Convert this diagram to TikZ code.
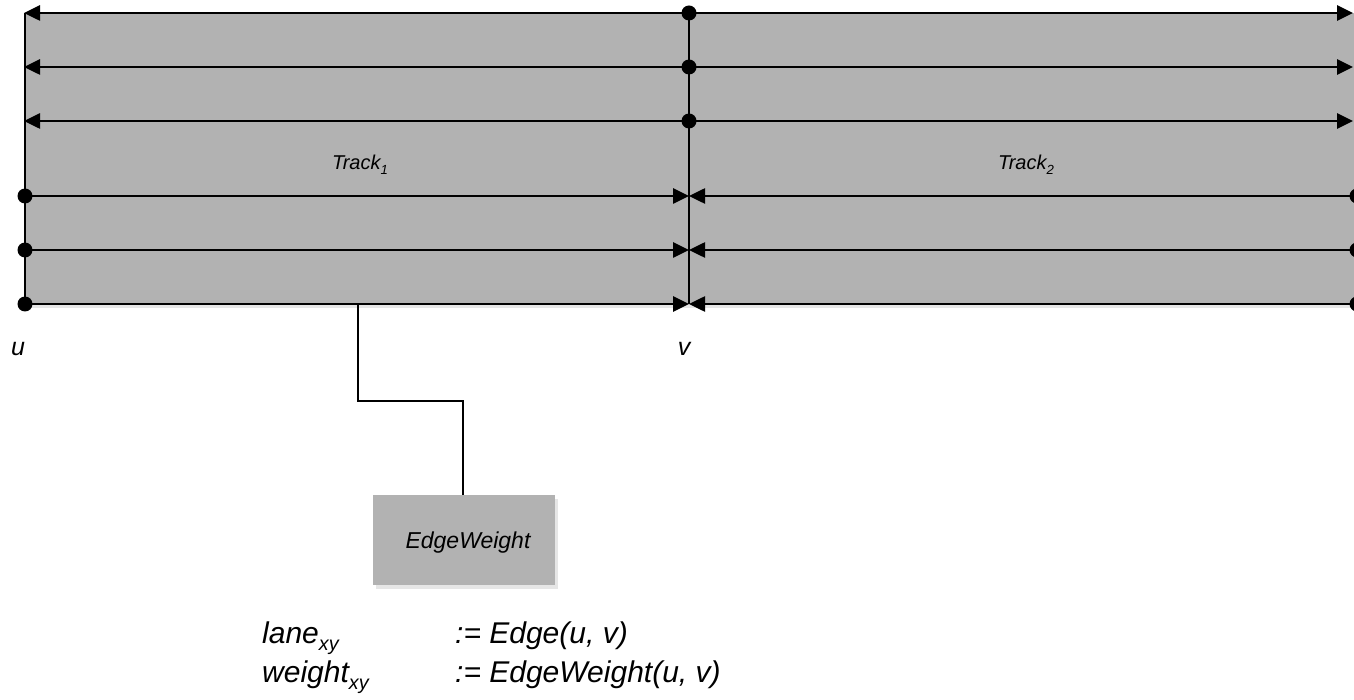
\documentclass[tikz,border=0pt]{standalone}
\usepackage{fontspec}
\setmainfont{Liberation Sans}
\usetikzlibrary{arrows.meta,shadows}
\newcommand\lowsub[1]{\raisebox{-0.25em}{\scalebox{0.66}{#1}}}
\tikzset{
  lane/.style={line width=2.6pt},
  toarrow/.style={lane,-{Triangle[length=16pt,width=15pt]}},
  dot/.style={circle,fill=black,inner sep=0pt,minimum size=15pt},
  panel/.style={fill=black!30,draw=none,drop shadow={shadow xshift=3pt,shadow yshift=-4pt,opacity=0.2}},
  lbl/.style={font=\itshape\fontsize{20}{24}\selectfont,inner sep=0pt,anchor=base},
  uv/.style={font=\itshape\fontsize{25}{30}\selectfont,inner sep=0pt},
  formula/.style={font=\itshape\fontsize{30}{36}\selectfont,inner sep=0pt,anchor=base west},
}
\begin{document}
\begin{tikzpicture}[x=1pt,y=-1pt]
\useasboundingbox (0,0) rectangle (1354,700);
% panel
\path[panel] (25,13) rectangle (1370,304);
% vertical lines
\coordinate (LT) at (25,13);
\coordinate (LB) at (25,304);
\coordinate (MT) at (689,13);
\coordinate (MB) at (689,304);
\draw[lane] (LT) -- (LB);
\draw[lane] (MT) -- (MB);
% top three rows: dots at middle, arrows outward
\foreach \y/\n in {13/a,67/b,121/c}{
  \node[dot] (m\n) at (689,\y) {};
  \coordinate (l\n) at (24,\y);
  \coordinate (r\n) at (1353,\y);
  \draw[toarrow] (m\n.center) -- (l\n);
  \draw[toarrow] (m\n.center) -- (r\n);
}
% bottom three rows: dots at ends, arrows inward
\foreach \y/\n in {196/d,250/e,304/f}{
  \node[dot] (l\n) at (25,\y) {};
  \node[dot] (r\n) at (1357,\y) {};
  \coordinate (m\n) at (689,\y);
  \draw[toarrow] (l\n.center) -- (m\n);
  \draw[toarrow] (r\n.center) -- (m\n);
}
% labels
\node[lbl] (t1) at (360,170) {Track\lowsub{1}};
\node[lbl] (t2) at (1026,170) {Track\lowsub{2}};
\node[uv] (u) at (18,349) {u};
\node[uv] (v) at (684,349) {v};
% EdgeWeight box
\node[panel,minimum width=182pt,minimum height=90pt,inner sep=0pt] (ew) at (464,540) {};
\node[font=\itshape\fontsize{23}{28}\selectfont,inner sep=0pt,anchor=base] (ewt) at (468,548) {EdgeWeight};
\coordinate (tap) at (358,304);
\draw[line width=1.4pt] (tap) -- (358,401) -- (463,401) -- (ew.north -| 463,0);
% formula
\node[formula] (f1) at (262,643) {lane\lowsub{xy}};
\node[formula] (f2) at (455,643) {:= Edge(u, v)};
\node[formula] (f3) at (262,682) {weight\lowsub{xy}};
\node[formula] (f4) at (455,682) {:= EdgeWeight(u, v)};
\end{tikzpicture}
\end{document}
